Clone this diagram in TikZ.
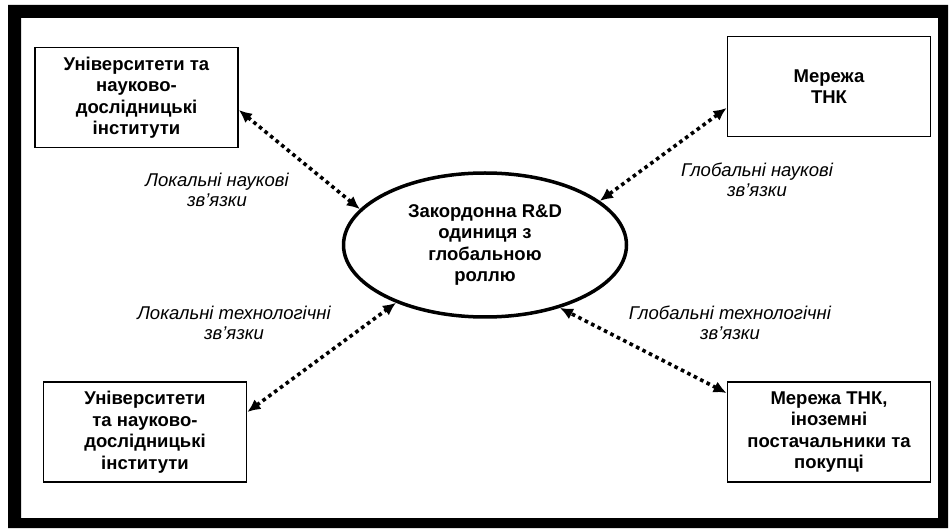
\documentclass[tikz,border=0pt]{standalone}
\usepackage{fontspec}
\setmainfont{Liberation Sans}
\usetikzlibrary{shapes.geometric,arrows.meta}
\begin{document}
\begin{tikzpicture}[x=1pt,y=-1pt,
  boxnode/.style={draw,line width=1.8pt,minimum width=203pt,minimum height=100pt,align=center,inner sep=0pt,font=\fontsize{18.5}{21.5}\selectfont\bfseries},
  ellnode/.style={draw,ellipse,line width=3.5pt,minimum width=283pt,minimum height=144pt,align=center,inner sep=0pt,font=\fontsize{18.5}{21.5}\selectfont\bfseries},
  linklabel/.style={align=center,inner sep=0pt,font=\fontsize{18.5}{20.5}\selectfont\itshape},
  dotlink/.style={line width=3.6pt,dash pattern=on 3.6pt off 3.6pt,{Latex[length=13pt,width=12pt]}-{Latex[length=13pt,width=12pt]}}
]
\useasboundingbox (0,0) rectangle (951,529);
\fill[black,even odd rule] (8,5) rectangle (948,528) (21,18) rectangle (938,518);

\node[boxnode] (b1) at (136.5,97.5) {Університети та\\науково-\\дослідницькі\\інститути};
\node[boxnode] (b2) at (829,86.5) {Мережа\\ТНК};
\node[boxnode] (b3) at (145,432) {Університети\\та науково-\\дослідницькі\\інститути};
\node[boxnode] (b4) at (829,432) {Мережа ТНК,\\іноземні\\постачальники та\\покупці};
\node[ellnode] (e) at (485,245) {Закордонна R\&D\\одиниця з\\глобальною\\роллю};

\node[linklabel] (l1) at (217,190) {Локальні наукові\\зв’язки};
\node[linklabel] (l2) at (757,180) {Глобальні наукові\\зв’язки};
\node[linklabel] (l3) at (234,323) {Локальні технологічні\\зв’язки};
\node[linklabel] (l4) at (730,323) {Глобальні технологічні\\зв’язки};

\draw[dotlink] ([yshift=-12.5pt]b1.east) -- (e.164);
\draw[dotlink] ([yshift=-21.5pt]b2.west) -- (e.21.7);
\draw[dotlink] ([yshift=20pt]b3.east) -- (e.213.4);
\draw[dotlink] ([yshift=39pt]b4.west) -- (e.320);
\end{tikzpicture}
\end{document}
